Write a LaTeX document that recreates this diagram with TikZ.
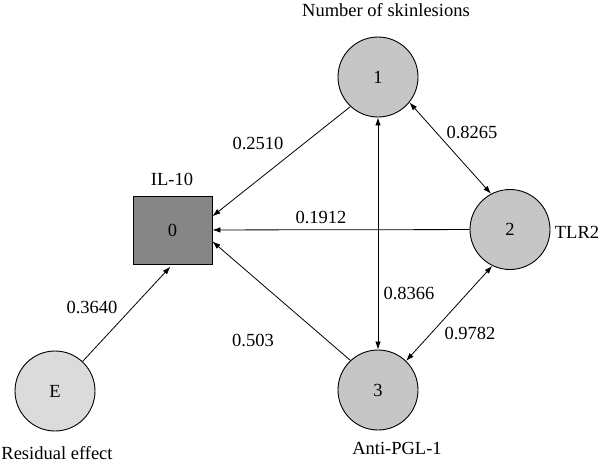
\documentclass[tikz,border=0pt]{standalone}
\usepackage{fontspec}
\setmainfont{Liberation Serif}
\usepackage{tikz}
\usetikzlibrary{arrows.meta}

\tikzset{
    latent/.style={circle, draw=black, line width=0.9pt, fill=gray!45, minimum size=80pt, inner sep=0pt},
    resid/.style={latent, fill=gray!28},
    observed/.style={rectangle, draw=black, line width=0.9pt, fill=gray!95, minimum width=79pt, minimum height=68pt, inner sep=0pt},
    edge/.style={draw=black, line width=0.8pt},
    coef/.style={inner sep=0pt}
}

\begin{document}
\begin{tikzpicture}[x=1pt, y=-1pt, font=\fontsize{18.5}{22}\selectfont, >={Latex[length=8pt,width=5.5pt]}]
                \useasboundingbox (0,0) rectangle (600,467);

                \node[observed] (il) at (172.5, 230) {0};
                \node[latent] (les) at (378, 77) {1};
                \node[latent] (tlr) at (510, 229.5) {2};
                \node[latent] (pgl) at (378, 390) {3};
                \node[resid] (res) at (55, 391) {E};

                \node (lesname) at (386, 10) {Number of skinlesions};
                \node (ilname) at (172, 179) {IL-10};
                \node (tlrname) at (577, 232) {TLR2};
                \node (pglname) at (397, 448) {Anti-PGL-1};
                \node (resname) at (57, 453) {Residual effect};

                \draw[edge, ->] (les.227) -- (il.19);
                \draw[edge, ->] (tlr) -- (il);
                \draw[edge, ->] (pgl.133) -- (il.-16);
                \draw[edge, ->, shorten >=3pt] (res.47) -- (il.south);
                \draw[edge, <->] (les) -- (pgl);
                \draw[edge, <->] (les.-39) -- (tlr.118);
                \draw[edge, <->] (pgl.46) -- (tlr.244);

                \node[coef] (c10) at (258, 143) {0.2510};
                \node[coef] (c12) at (472, 132) {0.8265};
                \node[coef] (c20) at (321, 217) {0.1912};
                \node[coef] (c13) at (409, 293) {0.8366};
                \node[coef] (c23) at (470, 333) {0.9782};
                \node[coef] (ce0) at (92, 307) {0.3640};
                \node[coef] (c30) at (253, 340) {0.503};
            \end{tikzpicture}
\end{document}
